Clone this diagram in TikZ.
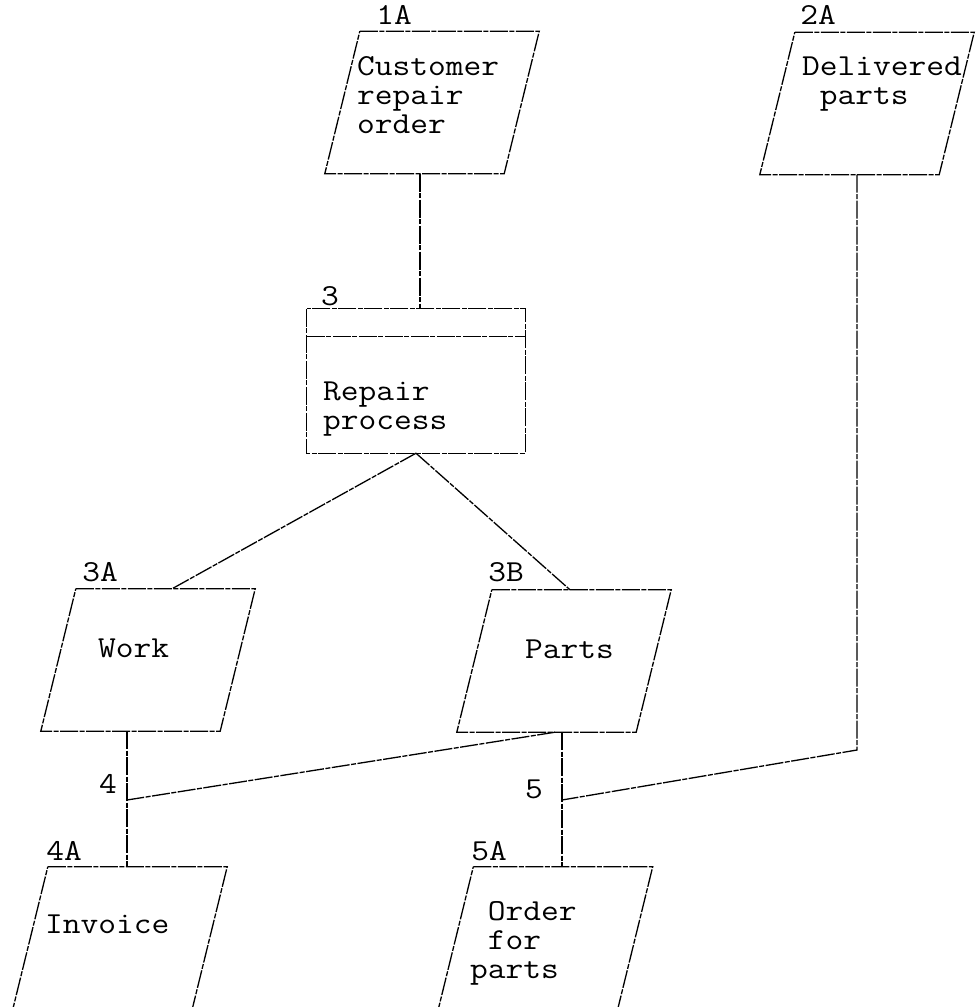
\documentclass[tikz,border=0pt]{standalone}
\usetikzlibrary{calc}

% typewriter lettering, widened a little
\newcommand\tw[1]{\scalebox{1.13}[1]{#1}}

\tikzset{
  ln/.style={line width=1.3pt, black, dash pattern=on 18pt off 1.5pt on 5pt off 1.5pt},
  datasym/.style={rectangle, draw=none, inner sep=0pt, minimum width=179pt, minimum height=142pt},
  procbox/.style={rectangle, draw=none, inner sep=0pt, minimum width=218pt, minimum height=144pt},
  % anchored at the baseline of the last line
  txt/.style={inner sep=0pt, align=left, anchor=base west,
    font=\fontsize{30.5}{29}\selectfont\ttfamily},
  tag/.style={inner sep=0pt, anchor=center,
    font=\fontsize{30.5}{29}\selectfont\ttfamily}
}

% outline of a data symbol: the top edge is shifted right, the bottom edge left
\newcommand\dataoutline[1]{%
  \draw[ln] ([xshift=17.5pt]#1.north west) -- ([xshift=17.5pt]#1.north east)
    -- ([xshift=-17.5pt]#1.south east) -- ([xshift=-17.5pt]#1.south west) -- cycle;}

\begin{document}
\begin{tikzpicture}[x=1pt, y=-1pt]
\useasboundingbox (0,0) rectangle (975,1007);

% ---- symbols ----
\node[datasym] (cro) at (432,102.5) {};
\node[datasym] (dlv) at (867,103.5) {};
\node[procbox] (proc) at (416,381) {};
\node[datasym] (wrk) at (148,660) {};
\node[datasym] (prt) at (564,661) {};
\node[datasym] (inv) at (120,938) {};
\node[datasym] (ord) at (545.5,938) {};

\dataoutline{cro}
\dataoutline{dlv}
\dataoutline{wrk}
\dataoutline{prt}
\dataoutline{inv}
\dataoutline{ord}
\draw[ln] (proc.north west) rectangle (proc.south east);
\draw[ln] ([yshift=-28pt]proc.north west) -- ([yshift=-28pt]proc.north east);

% ---- texts ----
\node[txt] (tcro) at (357,133) {\tw{Customer}\\\tw{repair}\\\tw{order}};
\node[txt] (tdlv) at (802,104) {\tw{Delivered}\\\tw{\phantom{p}parts}};
\node[txt] (tproc) at (323,429) {\tw{Repair}\\\tw{process}};
\node[txt] (twrk) at (98,657) {\tw{Work}};
\node[txt] (tprt) at (525,658) {\tw{Parts}};
\node[txt] (tinv) at (45,933) {\tw{Invoice}};
\node[txt] (tord) at (470,978) {\tw{\phantom{p}Order}\\\tw{\phantom{p}for}\\\tw{parts}};

% ---- reference numbers ----
\node[tag] (n1A) at (394,15) {\tw{1A}};
\node[tag] (n2A) at (818,15) {\tw{2A}};
\node[tag] (n3) at (330,296) {\tw{3}};
\node[tag] (n3A) at (100,572) {\tw{3A}};
\node[tag] (n3B) at (506,572) {\tw{3B}};
\node[tag] (n4A) at (64,851) {\tw{4A}};
\node[tag] (n5A) at (489,851) {\tw{5A}};
\node[tag] (n4) at (108,784) {\tw{4}};
\node[tag] (n5) at (534,789) {\tw{5}};

% ---- junctions on the vertical flows ----
\coordinate (j4) at (127,800);
\coordinate (j5) at (562,800);
\coordinate (bend) at (857,750);

% ---- connectors ----
\draw[ln] ([xshift=4pt]proc.north |- cro.south) -- ([xshift=4pt]proc.north);
\draw[ln] (proc.south) -- ([xshift=24pt]wrk.north);
\draw[ln] (proc.south) -- ([xshift=6pt]prt.north);
\draw[ln] (j4 |- wrk.south) -- (j4 |- inv.north);
\draw[ln] (j5 |- prt.south) -- (j5 |- ord.north);
\draw[ln] ([xshift=-9pt]prt.south) -- (j4);
\draw[ln] (bend |- dlv.south) -- (bend) -- (j5);
\end{tikzpicture}
\end{document}
